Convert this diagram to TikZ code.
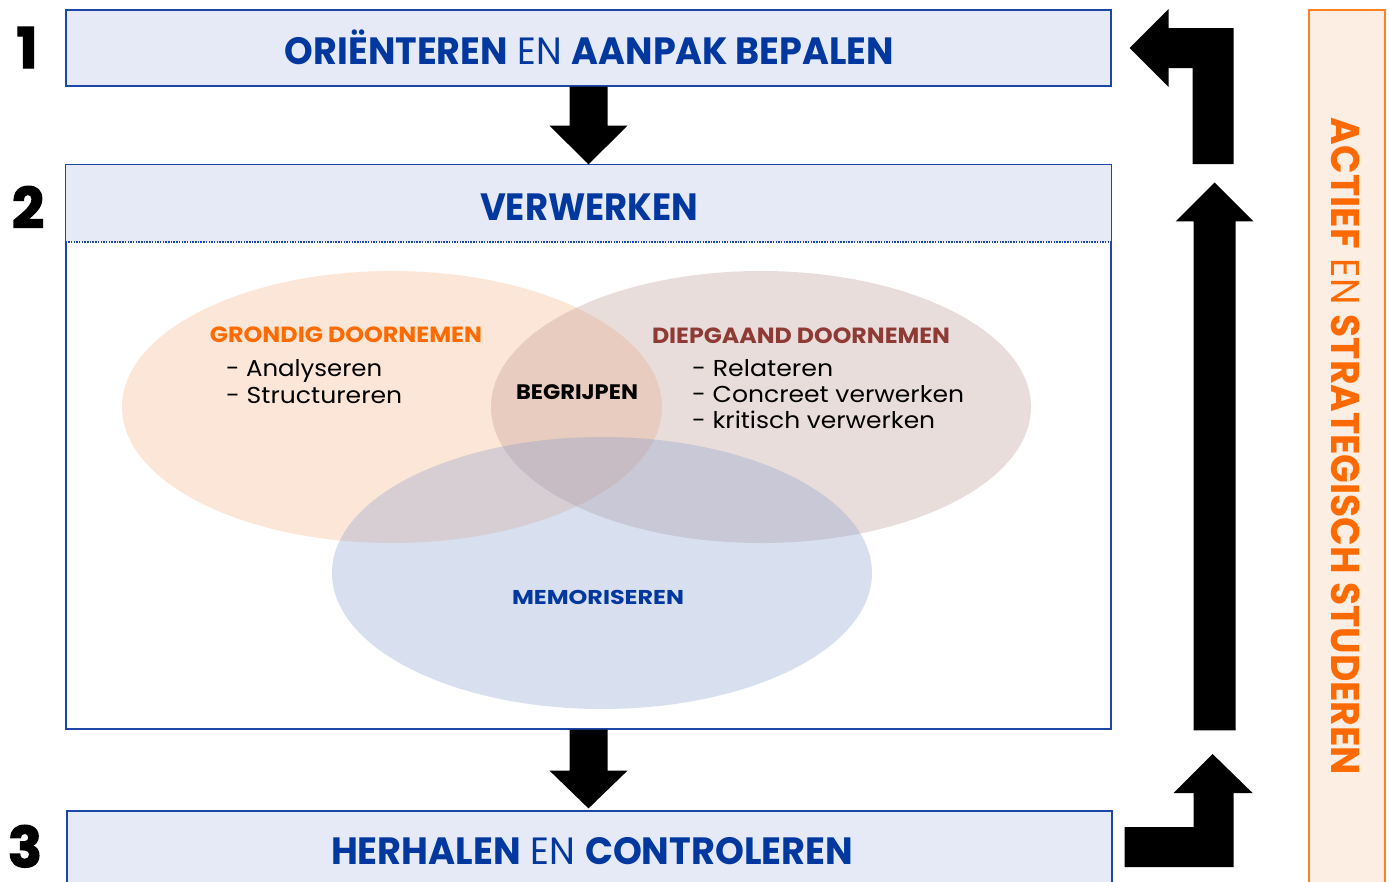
\documentclass[tikz,border=0pt]{standalone}
\usepackage{graphicx}
\usepackage{fontspec}
\setmainfont{Poppins}
\newfontfamily\heavyfont{Poppins}[BoldFeatures={FakeBold=2.5}]
\usetikzlibrary{calc,shapes.geometric}
\definecolor{tblue}{HTML}{0038A0}
\definecolor{bline}{HTML}{1C46A8}
\definecolor{bfill}{HTML}{E6EAF6}
\definecolor{oT}{HTML}{FF6A00}
\definecolor{sfill}{HTML}{FDEEE4}
\definecolor{sline}{HTML}{FF7F27}
\definecolor{brn}{HTML}{8E3B36}
\definecolor{eor}{HTML}{F9B98F}
\definecolor{ebr}{HTML}{B9918A}
\definecolor{ebl}{HTML}{8098CD}
\newcommand{\fitw}[2]{\resizebox{#1}{\height}{#2}}
\tikzset{
  stagebox/.style={draw=bline, line width=1.2pt, fill=bfill, inner sep=0pt, minimum width=1045pt},
  titletxt/.style={text=tblue, anchor=base, inner sep=0pt, font=\fontsize{38}{40}\selectfont},
  numtxt/.style={text=black, anchor=base, inner sep=0pt, font=\heavyfont\bfseries\fontsize{56}{58}\selectfont},
  venn/.style={ellipse, inner sep=0pt, minimum width=540pt, minimum height=272pt, draw=none},
  headtxt/.style={anchor=base, inner sep=0pt, font=\bfseries\fontsize{22}{24}\selectfont},
  listtxt/.style={anchor=base west, inner sep=0pt, text=black, font=\fontsize{23}{26}\selectfont},
  blk/.style={fill=black, draw=none}
}
\begin{document}
\begin{tikzpicture}[x=1pt,y=-1pt]
\useasboundingbox (0,0) rectangle (1389,881);

% side box
\node[draw=sline, line width=1.2pt, fill=sfill, inner sep=0pt, minimum width=76pt, minimum height=880pt] (side) at (1347,450) {};
\node[rotate=-90, text=oT, inner sep=0pt, font=\fontsize{40}{42}\selectfont] (sidetxt) at (1346,446.5)
  {\fitw{657pt}{\textbf{ACTIEF} EN \textbf{STRATEGISCH STUDEREN}}};

% stage 1
\node[stagebox, minimum height=76pt] (b1) at (588.5,48) {};
\node[titletxt] (t1) at (589.5,64) {\fitw{609pt}{\textbf{ORIËNTEREN} EN \textbf{AANPAK BEPALEN}}};

% stage 2
\node[stagebox, fill=white, minimum height=564pt] (b2) at (588.5,447) {};
\fill[bfill] ($(b2.north west)+(0.6,0.6)$) rectangle ($(b2.north east)+(-0.6,78)$);
\draw[bline, line width=2pt, dash pattern=on 1.5pt off 1.2pt] ($(b2.north west)+(0,78)$) -- ($(b2.north east)+(0,78)$);
\node[titletxt] (t2) at (589,220) {\fitw{218pt}{\textbf{VERWERKEN}}};

% venn
\node[venn, fill=eor, fill opacity=.35] (eg) at (392,407) {};
\node[venn, fill=ebr, fill opacity=.3] (ed) at (761,407) {};
\node[venn, fill=ebl, fill opacity=.3] (em) at (602,573) {};

\node[headtxt, text=oT] (hg) at (346,342) {\fitw{272pt}{GRONDIG DOORNEMEN}};
\node[listtxt] (l1) at (226,376) {\fitw{156pt}{- Analyseren}};
\node[listtxt] (l2) at (226,403) {\fitw{176pt}{- Structureren}};
\node[headtxt, text=brn] (hd) at (801,343) {\fitw{298pt}{DIEPGAAND DOORNEMEN}};
\node[listtxt] (r1) at (692,376) {\fitw{141pt}{- Relateren}};
\node[listtxt] (r2) at (692,402) {\fitw{272pt}{- Concreet verwerken}};
\node[listtxt] (r3) at (692,428) {\fitw{243pt}{- kritisch verwerken}};
\node[headtxt, text=black, font=\bfseries\fontsize{21}{23}\selectfont] (hb) at (577,399) {\fitw{122pt}{BEGRIJPEN}};
\node[headtxt, text=tblue, font=\bfseries\fontsize{20}{22}\selectfont] (hm) at (598,604) {\fitw{172pt}{MEMORISEREN}};

\draw[bline, line width=1.2pt] (b2.north west) rectangle (b2.south east);

% stage 3
\node[stagebox, minimum height=84pt] (b3) at (589.5,853) {};
\node[titletxt] (t3) at (592,864) {\fitw{522pt}{\textbf{HERHALEN} EN \textbf{CONTROLEREN}}};

% numbers
\node[numtxt] (n1) at (27,68) {1};
\node[numtxt] (n2) at (28,228) {2};
\node[numtxt] (n3) at (25,867) {3};

% down arrows
\fill[blk] ($(b1.south)+(-19,0)$) -- ($(b1.south)+(-19,39)$) -- ($(b1.south)+(-39,39)$) -- (b2.north)
  -- ($(b1.south)+(39,39)$) -- ($(b1.south)+(19,39)$) -- ($(b1.south)+(19,0)$) -- cycle;
\fill[blk] ($(b2.south)+(-19,0)$) -- ($(b2.south)+(-19,41)$) -- ($(b2.south)+(-39,41)$) -- ($(b3.north)+(-1,-2)$)
  -- ($(b2.south)+(39,41)$) -- ($(b2.south)+(19,41)$) -- ($(b2.south)+(19,0)$) -- cycle;

% right arrows
\coordinate (c1) at (b1.east);
\fill[blk] ($(c1)+(18,0)$) -- ($(c1)+(57,-39)$) -- ($(c1)+(57,-20)$) -- ($(c1)+(122,-20)$) -- ($(c1)+(122,116)$)
  -- ($(c1)+(81,116)$) -- ($(c1)+(81,20)$) -- ($(c1)+(57,20)$) -- ($(c1)+(57,39)$) -- cycle;
\coordinate (c2) at (b2.north east);
\fill[blk] ($(c2)+(103,18)$) -- ($(c2)+(142,57)$) -- ($(c2)+(124,57)$) -- ($(c2)+(124,566)$)
  -- ($(c2)+(82,566)$) -- ($(c2)+(82,57)$) -- ($(c2)+(64,57)$) -- cycle;
\coordinate (c3) at (b3.east);
\fill[blk] ($(c3)+(100,-99)$) -- ($(c3)+(140,-60)$) -- ($(c3)+(121,-60)$) -- ($(c3)+(121,14)$) -- ($(c3)+(12,14)$)
  -- ($(c3)+(12,-26)$) -- ($(c3)+(81,-26)$) -- ($(c3)+(81,-60)$) -- ($(c3)+(61,-60)$) -- cycle;
\end{tikzpicture}
\end{document}
